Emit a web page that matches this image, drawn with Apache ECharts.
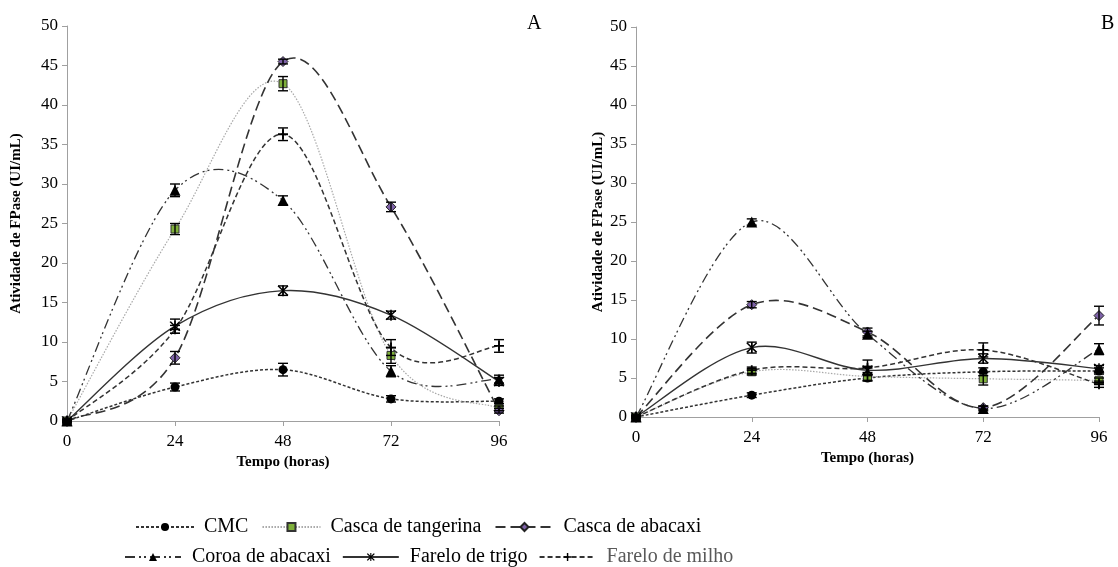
<!DOCTYPE html>
<html><head><meta charset="utf-8">
<script src="https://cdn.jsdelivr.net/npm/echarts@6/dist/echarts.min.js"></script>
<style>html,body{margin:0;padding:0;background:#fff}#c{width:1118px;height:567px}</style>
</head><body><div id="c"></div>
<script>
// ---- data ----
const hours = [0, 24, 48, 72, 96];
const seriesNames = ['CMC', 'Casca de tangerina', 'Casca de abacaxi', 'Coroa de abacaxi', 'Farelo de trigo', 'Farelo de milho'];
const panelLabels = ['A', 'B'];
// Panel A values
const cmcA      = [0, 4.3, 6.5, 2.8, 2.5];
const tangA     = [0, 24.3, 42.7, 8.3, 1.6];
const abacA     = [0, 8.0, 45.5, 27.1, 1.3];
const coroaA    = [0, 29.2, 27.9, 6.3, 5.3];
const trigoA    = [0, 12.0, 16.5, 13.4, 5.0];
const milhoA    = [0, 11.6, 36.3, 9.3, 9.5];
// Panel A error (±)
const cmcAErr   = [0.2, 0.5, 0.8, 0.4, 0.3];
const tangAErr  = [0.2, 0.7, 0.9, 1.0, 0.3];
const abacAErr  = [0.2, 0.8, 0.3, 0.6, 0.3];
const coroaAErr = [0.2, 0.8, 0.6, 0.7, 0.5];
const trigoAErr = [0.2, 0.9, 0.6, 0.5, 0.5];
const milhoAErr = [0.2, 0.5, 0.8, 1.0, 0.8];
// Panel B values
const cmcB      = [0, 2.8, 5.0, 5.8, 5.9];
const tangB     = [0, 5.8, 5.2, 4.9, 4.7];
const abacB     = [0, 14.4, 10.9, 1.2, 13.0];
const coroaB    = [0, 25.0, 10.6, 1.1, 8.7];
const trigoB    = [0, 8.9, 6.0, 7.5, 6.2];
const milhoB    = [0, 6.0, 6.3, 8.6, 4.2];
// Panel B error (±)
const cmcBErr   = [0.2, 0.3, 0.4, 0.5, 0.4];
const tangBErr  = [0.2, 0.4, 0.5, 0.8, 0.3];
const abacBErr  = [0.2, 0.4, 0.5, 0.2, 1.2];
const coroaBErr = [0.2, 0.4, 0.4, 0.3, 0.7];
const trigoBErr = [0.2, 0.7, 0.5, 0.6, 0.4];
const milhoBErr = [0.2, 0.4, 1.0, 0.9, 0.4];

// ---- styles ----
const FONT = '"Liberation Serif","Times New Roman",serif';
const starPath = 'path://M9,0L11,0L11,20L9,20Z M2.6,2.2L4.4,0.8L17.4,17.8L15.6,19.2Z M15.6,0.8L17.4,2.2L4.4,19.2L2.6,17.8Z';
const plusPath = 'path://M4.1,0H5.9V4.1H10V5.9H5.9V10H4.1V5.9H0V4.1H4.1Z';
const styles = [
  {symbol: 'circle', size: 9, color: '#000', border: '#000', line: {color: '#333', width: 1.5, type: [3, 2]}},
  {symbol: 'rect', size: 8, color: '#7fb03a', border: '#333', line: {color: '#a8a8a8', width: 1.2, type: [1.5, 1.5]}},
  {symbol: 'diamond', size: 10, color: '#7e62a8', border: '#222', line: {color: '#333', width: 1.6, type: [10, 5]}},
  {symbol: 'triangle', size: 11, color: '#000', border: '#000', line: {color: '#333', width: 1.3, type: [10, 4, 2, 3, 2, 4]}},
  {symbol: starPath, size: 11, color: '#000', border: '#000', line: {color: '#333', width: 1.4, type: 'solid'}},
  {symbol: plusPath, size: 10, color: '#000', border: '#000', line: {color: '#333', width: 1.5, type: [5, 3]}}
];

const panels = [
  {vals: [cmcA, tangA, abacA, coroaA, trigoA, milhoA], errs: [cmcAErr, tangAErr, abacAErr, coroaAErr, trigoAErr, milhoAErr]},
  {vals: [cmcB, tangB, abacB, coroaB, trigoB, milhoB], errs: [cmcBErr, tangBErr, abacBErr, coroaBErr, trigoBErr, milhoBErr]}
];

// Excel-like smoothed curve (Catmull-Rom Bezier) built from axis coordinates
function smoothRenderer(vals, st) {
  return function (params, api) {
    if (params.dataIndex !== 0) return null;
    const p = hours.map((h, i) => api.coord([h, vals[i]]));
    const n = p.length;
    let d = 'M' + p[0][0] + ',' + p[0][1];
    for (let i = 0; i < n - 1; i++) {
      const p0 = p[Math.max(i - 1, 0)], p1 = p[i], p2 = p[i + 1], p3 = p[Math.min(i + 2, n - 1)];
      const c1 = [p1[0] + (p2[0] - p0[0]) / 6, p1[1] + (p2[1] - p0[1]) / 6];
      const c2 = [p2[0] - (p3[0] - p1[0]) / 6, p2[1] - (p3[1] - p1[1]) / 6];
      d += ' C' + c1[0] + ',' + c1[1] + ' ' + c2[0] + ',' + c2[1] + ' ' + p2[0] + ',' + p2[1];
    }
    return {
      type: 'path', shape: {pathData: d},
      style: {fill: null, stroke: st.line.color, lineWidth: st.line.width,
              lineDash: st.line.type === 'solid' ? null : st.line.type}
    };
  };
}

const series = [];
panels.forEach((p, pi) => {
  p.vals.forEach((vals, si) => {
    const st = styles[si];
    series.push({
      type: 'custom', xAxisIndex: pi, yAxisIndex: pi, z: 2, silent: true, animation: false,
      data: hours.map((h, i) => [h, vals[i]]), encode: {x: 0, y: 1},
      renderItem: smoothRenderer(vals, st)
    });
    series.push({
      name: seriesNames[si], type: 'line', xAxisIndex: pi, yAxisIndex: pi,
      data: hours.map((h, i) => [h, vals[i]]),
      symbol: st.symbol, symbolSize: st.size,
      lineStyle: Object.assign({}, st.line, {opacity: 0}),
      itemStyle: {color: st.color, borderColor: st.border, borderWidth: (si === 1 || si === 2) ? 1 : 0},
      z: 3, animation: false
    });
  });
  // error bars
  const errData = [];
  p.vals.forEach((vals, si) => {
    hours.forEach((h, i) => errData.push([h, vals[i] - p.errs[si][i], vals[i] + p.errs[si][i]]));
  });
  series.push({
    type: 'custom', xAxisIndex: pi, yAxisIndex: pi, z: 5, animation: false, silent: true,
    data: errData, encode: {x: 0, y: [1, 2]},
    renderItem: function (params, api) {
      const x = api.value(0);
      const lo = api.coord([x, api.value(1)]);
      const hi = api.coord([x, api.value(2)]);
      const w = 5;
      const s = {stroke: '#000', lineWidth: 1.4};
      return {type: 'group', children: [
        {type: 'line', shape: {x1: lo[0], y1: lo[1], x2: hi[0], y2: hi[1]}, style: s},
        {type: 'line', shape: {x1: lo[0] - w, y1: lo[1], x2: lo[0] + w, y2: lo[1]}, style: s},
        {type: 'line', shape: {x1: hi[0] - w, y1: hi[1], x2: hi[0] + w, y2: hi[1]}, style: s}
      ]};
    }
  });
});

function xAxis(gi) {
  return {
    type: 'value', gridIndex: gi, min: 0, max: 96, interval: 24,
    name: 'Tempo (horas)', nameLocation: 'middle', nameGap: 31,
    nameTextStyle: {fontFamily: FONT, fontWeight: 'bold', fontSize: 15, color: '#000'},
    axisLine: {show: true, lineStyle: {color: '#a0a0a0', width: 1}},
    axisTick: {show: true, inside: false, length: 5, lineStyle: {color: '#a0a0a0'}},
    axisLabel: {fontFamily: FONT, fontSize: 17, color: '#000', margin: 12},
    splitLine: {show: false}
  };
}
function yAxis(gi, gap) {
  return {
    type: 'value', gridIndex: gi, min: 0, max: 50, interval: 5,
    name: 'Atividade de FPase (UI/mL)', nameLocation: 'middle', nameGap: gap, nameRotate: 90,
    nameTextStyle: {fontFamily: FONT, fontWeight: 'bold', fontSize: 15, color: '#000'},
    axisLine: {show: true, lineStyle: {color: '#a0a0a0', width: 1}},
    axisTick: {show: true, inside: false, length: 5, lineStyle: {color: '#a0a0a0'}},
    axisLabel: {fontFamily: FONT, fontSize: 17, color: '#000', margin: 9},
    splitLine: {show: false}
  };
}

const option = {
  backgroundColor: '#fff',
  animation: false,
  grid: [
    {left: 67, top: 26, width: 432, height: 395},
    {left: 636, top: 27, width: 463, height: 390}
  ],
  xAxis: [xAxis(0), xAxis(1)],
  yAxis: [yAxis(0, 43), yAxis(1, 29)],
  legend: [
    {left: 130, top: 512, itemWidth: 58, itemHeight: 10, itemGap: 13, selectedMode: false,
     lineStyle: {opacity: 1}, data: seriesNames.slice(0, 3),
     textStyle: {fontFamily: FONT, fontSize: 20, color: '#000', padding: [0, 0, 0, 5]}},
    {left: 119, top: 542, itemWidth: 56, itemHeight: 10, itemGap: 11, selectedMode: false,
     lineStyle: {opacity: 1},
     data: [seriesNames[3], seriesNames[4], {name: seriesNames[5], textStyle: {color: '#595959'}}],
     textStyle: {fontFamily: FONT, fontSize: 20, color: '#000', padding: [0, 0, 0, 6]}}
  ],
  graphic: [
    {type: 'text', left: 527, top: 14, style: {text: panelLabels[0], font: '20px ' + FONT, fill: '#000'}},
    {type: 'text', left: 1101, top: 14, style: {text: panelLabels[1], font: '20px ' + FONT, fill: '#000'}}
  ],
  series: series
};
const chart = echarts.init(document.getElementById('c'), null, {renderer: 'canvas'});
chart.setOption(option);
</script></body></html>
